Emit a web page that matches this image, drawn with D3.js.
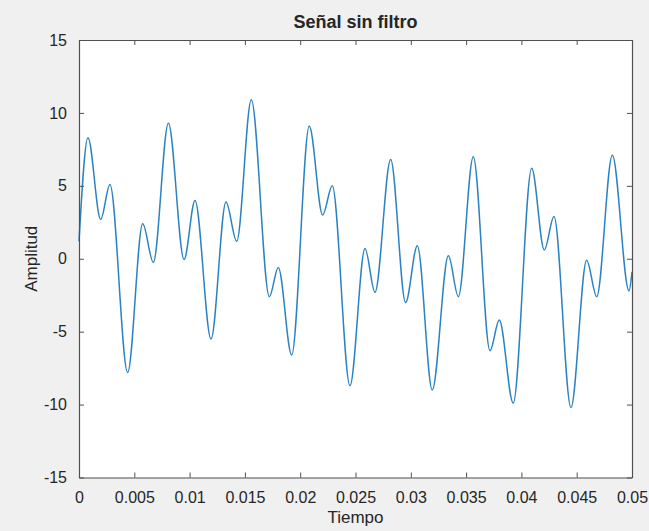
<!DOCTYPE html>
<html>
<head>
<meta charset="utf-8">
<script src="https://cdn.jsdelivr.net/npm/d3@7"></script>
<style>
  html, body { margin: 0; padding: 0; background: #f0f0f0; }
  svg { display: block; }
  text { font-family: Arial, "Liberation Sans", Helvetica, sans-serif; fill: #262626; }
</style>
</head>
<body>
<svg id="chart" width="649" height="531"></svg>
<script>
// Turning points of the unfiltered signal (time in s, amplitude)
const tiempo = [0, 0.00081, 0.00196, 0.0028, 0.0044, 0.00576, 0.00672, 0.00808, 0.0095, 0.01049,
  0.01194, 0.01329, 0.01426, 0.01558, 0.01721, 0.01802, 0.01923, 0.02082, 0.02203, 0.0229,
  0.0245, 0.02586, 0.02676, 0.02818, 0.02953, 0.03059, 0.03194, 0.0334, 0.0343, 0.03565,
  0.03716, 0.038, 0.03926, 0.04093, 0.04207, 0.04295, 0.04448, 0.0459, 0.04681, 0.04822,
  0.04973, 0.05];
const amplitud = [1.2, 8.3, 2.7, 5.1, -7.8, 2.4, -0.25, 9.3, -0.05, 4.0,
  -5.5, 3.9, 1.2, 10.9, -2.6, -0.6, -6.6, 9.1, 3.0, 5.0,
  -8.7, 0.7, -2.3, 6.8, -3.0, 0.9, -9.0, 0.2, -2.6, 7.0,
  -6.3, -4.2, -9.9, 6.2, 0.6, 2.9, -10.2, -0.1, -2.6, 7.1,
  -2.2, -0.9];

const xTicks = [0, 0.005, 0.01, 0.015, 0.02, 0.025, 0.03, 0.035, 0.04, 0.045, 0.05];
const xTickLabels = ["0", "0.005", "0.01", "0.015", "0.02", "0.025", "0.03", "0.035", "0.04", "0.045", "0.05"];
const yTicks = [-15, -10, -5, 0, 5, 10, 15];
const yTickLabels = ["-15", "-10", "-5", "0", "5", "10", "15"];

const titulo = "Señal sin filtro";
const etiquetaX = "Tiempo";
const etiquetaY = "Amplitud";

const svg = d3.select("#chart");
const W = 649, H = 531;
const margin = { top: 40, right: 17, bottom: 53.5, left: 79 };
const iw = W - margin.left - margin.right;
const ih = H - margin.top - margin.bottom;

const x = d3.scaleLinear().domain([0, 0.05]).range([0, iw]);
const y = d3.scaleLinear().domain([-15, 15]).range([ih, 0]);

const g = svg.append("g").attr("transform", `translate(${margin.left},${margin.top})`);

// plot area
g.append("rect").attr("width", iw).attr("height", ih).attr("fill", "#ffffff");

// signal
const points = tiempo.map((t, i) => [t, amplitud[i]]);
const line = d3.line()
  .x(d => x(d[0]))
  .y(d => y(d[1]))
  .curve(d3.curveMonotoneX);

g.append("path")
  .datum(points)
  .attr("d", line)
  .attr("fill", "none")
  .attr("stroke", "#2a82c2")
  .attr("stroke-width", 1.5)
  .attr("stroke-linejoin", "round");

const axisColor = "#505050";
const tickLen = 5;
const tickFmtX = d => xTickLabels[xTicks.indexOf(d)];
const tickFmtY = d => yTickLabels[yTicks.indexOf(d)];

// bottom axis with labels, ticks pointing inward
const axBottom = g.append("g").attr("transform", `translate(0,${ih})`)
  .call(d3.axisBottom(x).tickValues(xTicks).tickFormat(tickFmtX).tickSizeInner(-tickLen).tickSizeOuter(0).tickPadding(14));
// top axis: ticks only
const axTop = g.append("g")
  .call(d3.axisTop(x).tickValues(xTicks).tickFormat("").tickSizeInner(-tickLen).tickSizeOuter(0));
// left axis with labels
const axLeft = g.append("g")
  .call(d3.axisLeft(y).tickValues(yTicks).tickFormat(tickFmtY).tickSizeInner(-tickLen).tickSizeOuter(0).tickPadding(12));
// right axis: ticks only
const axRight = g.append("g").attr("transform", `translate(${iw},0)`)
  .call(d3.axisRight(y).tickValues(yTicks).tickFormat("").tickSizeInner(-tickLen).tickSizeOuter(0));

[axBottom, axTop, axLeft, axRight].forEach(a => {
  a.select(".domain").attr("stroke", axisColor).attr("stroke-width", 1.2);
  a.selectAll(".tick line").attr("stroke", axisColor).attr("stroke-width", 1);
  a.selectAll(".tick text")
    .attr("font-family", "Arial, 'Liberation Sans', sans-serif")
    .attr("font-size", 16)
    .attr("fill", "#444444");
});
axBottom.selectAll(".tick text").attr("dy", "0.71em");

// title
svg.append("text")
  .attr("x", margin.left + iw / 2)
  .attr("y", 28)
  .attr("text-anchor", "middle")
  .attr("font-size", 18)
  .attr("font-weight", "bold")
  .attr("fill", "#262626")
  .text(titulo);

// axis labels
svg.append("text")
  .attr("x", margin.left + iw / 2)
  .attr("y", 523)
  .attr("text-anchor", "middle")
  .attr("font-size", 17)
  .attr("fill", "#444444")
  .text(etiquetaX);

svg.append("text")
  .attr("transform", `translate(37,${margin.top + ih / 2}) rotate(-90)`)
  .attr("text-anchor", "middle")
  .attr("font-size", 17)
  .attr("fill", "#444444")
  .text(etiquetaY);
</script>
</body>
</html>
